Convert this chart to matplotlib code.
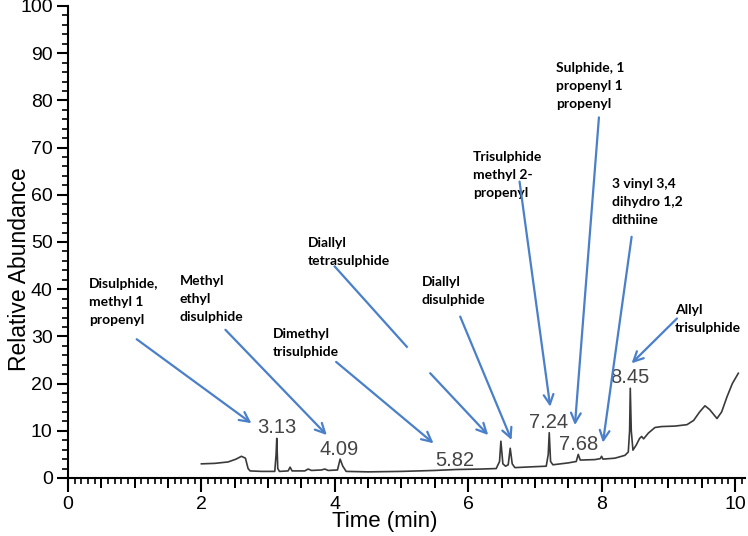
import numpy as np
import matplotlib
matplotlib.use('Agg')
import matplotlib.pyplot as plt
from matplotlib.ticker import MultipleLocator

# chromatogram trace
time_min = [2.00, 2.20, 2.40, 2.52, 2.60, 2.66, 2.70, 2.73, 2.90, 3.10, 3.12, 3.13, 3.145, 3.17,
            3.30, 3.33, 3.36, 3.55, 3.60, 3.65, 3.80, 3.85, 3.90, 4.04, 4.08, 4.12, 4.17,
            4.50, 5.00, 5.50, 5.82, 6.20, 6.42, 6.47, 6.49, 6.52, 6.56, 6.60, 6.63, 6.66, 6.70,
            7.00, 7.17, 7.20, 7.215, 7.235, 7.27, 7.50, 7.62, 7.65, 7.68, 7.90, 7.98, 8.00, 8.02,
            8.20, 8.35, 8.40, 8.42, 8.43, 8.445, 8.47, 8.52, 8.57, 8.60, 8.63, 8.70, 8.80, 8.90,
            9.10, 9.28, 9.38, 9.47, 9.55, 9.62, 9.73, 9.80, 9.88, 9.96, 10.05]
abundance = [3.0, 3.1, 3.4, 4.0, 4.6, 4.2, 2.0, 1.5, 1.4, 1.4, 5.0, 8.4, 2.0, 1.4,
             1.5, 2.3, 1.5, 1.5, 1.9, 1.6, 1.7, 1.9, 1.6, 1.7, 4.0, 2.5, 1.4,
             1.3, 1.4, 1.6, 1.8, 1.9, 2.0, 3.5, 7.8, 3.0, 2.5, 2.8, 6.3, 3.0, 2.2,
             2.4, 2.5, 5.0, 9.6, 3.5, 2.8, 3.2, 3.5, 5.0, 3.8, 3.9, 4.1, 4.6, 4.0,
             4.2, 4.8, 5.5, 10.0, 19.0, 10.0, 5.9, 7.0, 8.4, 8.8, 8.3, 9.5, 10.7, 10.9,
             11.0, 11.3, 12.2, 14.0, 15.3, 14.5, 12.6, 14.0, 17.2, 20.0, 22.2]

# retention time labels
rt_labels = ['3.13', '4.09', '5.82', '7.24', '7.68', '8.45']
rt_x = [3.13, 4.07, 5.80, 7.20, 7.65, 8.42]
rt_y = [10.8, 6.0, 3.7, 11.7, 7.2, 21.3]

# compound names with arrow start / tip
compounds = ['Disulphide,\nmethyl 1\npropenyl',
             'Methyl\nethyl\ndisulphide',
             'Dimethyl\ntrisulphide',
             'Diallyl\ntetrasulphide',
             'Diallyl\ndisulphide',
             'Trisulphide\nmethyl 2-\npropenyl',
             'Sulphide, 1\npropenyl 1\npropenyl',
             '3 vinyl 3,4\ndihydro 1,2\ndithiine',
             'Allyl\ntrisulphide']
text_x = [0.315, 1.67, 3.07, 3.60, 5.30, 6.07, 7.32, 8.15, 9.10]
text_y = [37.35, 37.9, 28.7, 47.8, 39.6, 64.2, 83.0, 58.5, 33.6]
arrow_from = [(1.03, 29.4), (2.36, 31.4), (4.02, 24.6), (5.43, 22.2), (5.88, 34.2),
              (6.77, 62.8), (7.96, 76.4), (8.45, 51.1), (9.13, 33.8)]
arrow_to = [(2.75, 11.6), (3.88, 9.1), (5.48, 7.35), (6.30, 9.1), (6.65, 8.05),
            (7.23, 15.1), (7.60, 11.2), (8.02, 7.5), (8.45, 24.3)]
# the tetrasulphide arrow has a gap in the middle
gap_line = [(4.00, 44.8), (5.08, 27.8)]

blue = '#4a7fc9'

fig = plt.figure(figsize=(7.48, 5.36), dpi=100)
ax = fig.add_axes([68/748, 58/536, 677/748, 472/536])

ax.plot(time_min, abundance, color='#3a3a3a', lw=1.2)

for lab, x, y in zip(rt_labels, rt_x, rt_y):
    ax.text(x, y, lab, ha='center', va='center', fontsize=14.5, color='#444444',
            family='Liberation Sans')

for name, x, y, p0, p1 in zip(compounds, text_x, text_y, arrow_from, arrow_to):
    ax.text(x, y, name, ha='left', va='center', fontsize=10, fontweight='bold',
            family='Lato', linespacing=1.6, color='black')
    ax.annotate('', xy=p1, xytext=p0,
                arrowprops=dict(arrowstyle='->,head_length=0.7,head_width=0.35',
                                color=blue, lw=1.6, shrinkA=0, shrinkB=0))
ax.plot([gap_line[0][0], gap_line[1][0]], [gap_line[0][1], gap_line[1][1]],
        color=blue, lw=1.6)

ax.set_xlim(0, 10.15)
ax.set_ylim(0, 100)
ax.spines['top'].set_visible(False)
ax.spines['right'].set_visible(False)
ax.spines['left'].set_linewidth(1.5)
ax.spines['bottom'].set_linewidth(1.5)

ax.xaxis.set_major_locator(MultipleLocator(2))
ax.xaxis.set_minor_locator(MultipleLocator(0.1))
ax.yaxis.set_major_locator(MultipleLocator(10))
ax.yaxis.set_minor_locator(MultipleLocator(2))
ax.tick_params(which='major', length=10, width=1.5, labelsize=14, pad=3)
ax.tick_params(axis='y', which='major', length=8)
ax.tick_params(which='minor', length=4, width=1.2)
for t in ax.get_xticklabels() + ax.get_yticklabels():
    t.set_family('Liberation Sans')

# medium ticks every half minute
sec = ax.secondary_xaxis('bottom')
sec.xaxis.set_major_locator(MultipleLocator(0.5))
sec.tick_params(length=7, width=1.4, labelbottom=False)
sec.spines['bottom'].set_visible(False)

ax.set_xlabel('Time (min)', fontsize=16, family='Liberation Sans')
ax.set_ylabel('Relative Abundance', fontsize=16.5, family='Liberation Sans')
ax.xaxis.set_label_coords(0.468, -0.07)
ax.yaxis.set_label_coords(-0.054, 0.443)

fig.savefig('out.png', dpi=100)
